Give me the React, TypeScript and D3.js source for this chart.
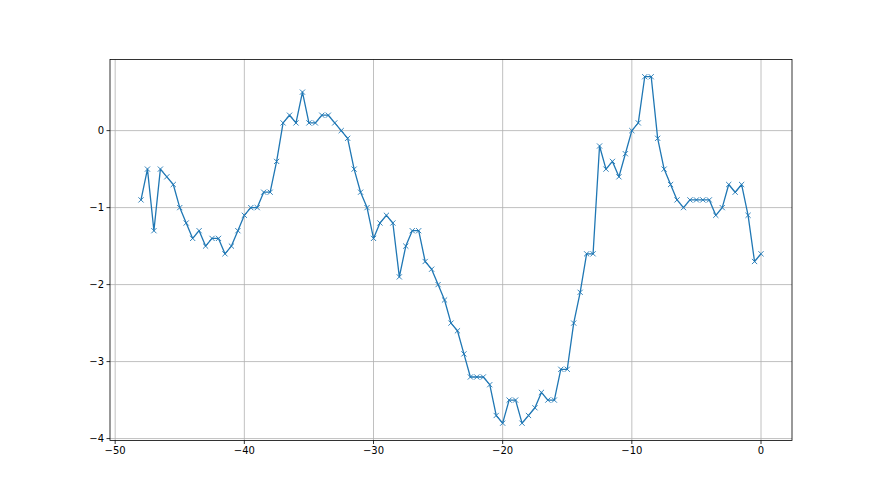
import React from "react";
import * as d3 from "d3";

const xValues: number[] = d3.range(-48, 0.001, 0.5);
const yValues: number[] = [
	-0.9, -0.5, -1.3, -0.5, -0.6, -0.7, -1.0, -1.2, -1.4, -1.3,
	-1.5, -1.4, -1.4, -1.6, -1.5, -1.3, -1.1, -1.0, -1.0, -0.8,
	-0.8, -0.4, 0.1, 0.2, 0.1, 0.5, 0.1, 0.1, 0.2, 0.2,
	0.1, 0.0, -0.1, -0.5, -0.8, -1.0, -1.4, -1.2, -1.1, -1.2,
	-1.9, -1.5, -1.3, -1.3, -1.7, -1.8, -2.0, -2.2, -2.5, -2.6,
	-2.9, -3.2, -3.2, -3.2, -3.3, -3.7, -3.8, -3.5, -3.5, -3.8,
	-3.7, -3.6, -3.4, -3.5, -3.5, -3.1, -3.1, -2.5, -2.1, -1.6,
	-1.6, -0.2, -0.5, -0.4, -0.6, -0.3, 0.0, 0.1, 0.7, 0.7,
	-0.1, -0.5, -0.7, -0.9, -1.0, -0.9, -0.9, -0.9, -0.9, -1.1,
	-1.0, -0.7, -0.8, -0.7, -1.1, -1.7, -1.6,
];
const xTicks = [-50, -40, -30, -20, -10, 0];
const yTicks = [-4, -3, -2, -1, 0];

const W = 880;
const H = 495;
const margin = { top: 59.4, right: 88, bottom: 54.5, left: 110 };

const App: React.FC = () => {
	const x = d3.scaleLinear().domain([-50.4, 2.4]).range([margin.left, W - margin.right]);
	const y = d3.scaleLinear().domain([-4.025, 0.925]).range([H - margin.bottom, margin.top]);
	const pts = xValues.map((v, i) => [v, yValues[i]] as [number, number]);
	const line = d3.line<[number, number]>().x((d) => x(d[0])).y((d) => y(d[1]));
	const font = "DejaVu Sans, sans-serif";
	const fmt = (v: number) => (v < 0 ? "\u2212" + Math.abs(v) : String(v));
	const m = 2.6;

	return (
		<svg width={W} height={H} style={{ position: "absolute", left: 0, top: 0, background: "#fff" }}>
			<rect width={W} height={H} fill="#fff" />
			{/* grid */}
			<g stroke="#b0b0b0" strokeWidth={0.8}>
				{xTicks.map((t) => (
					<line key={"gx" + t} x1={x(t)} x2={x(t)} y1={margin.top} y2={H - margin.bottom} />
				))}
				{yTicks.map((t) => (
					<line key={"gy" + t} x1={margin.left} x2={W - margin.right} y1={y(t)} y2={y(t)} />
				))}
			</g>
			<path d={line(pts) || ""} fill="none" stroke="#1f77b4" strokeWidth={1.3} strokeLinejoin="round" />
			<g stroke="#1f77b4" strokeWidth={0.9}>
				{pts.map((d, i) => (
					<path
						key={i}
						d={`M${x(d[0]) - m},${y(d[1]) - m}L${x(d[0]) + m},${y(d[1]) + m}M${x(d[0]) - m},${y(d[1]) + m}L${x(d[0]) + m},${y(d[1]) - m}`}
					/>
				))}
			</g>
			{/* spines */}
			<rect
				x={margin.left}
				y={margin.top}
				width={W - margin.left - margin.right}
				height={H - margin.top - margin.bottom}
				fill="none"
				stroke="#000"
				strokeWidth={0.8}
			/>
			{/* ticks */}
			<g fontFamily={font} fontSize={10} fill="#000">
				{xTicks.map((t) => (
					<g key={"tx" + t}>
						<line x1={x(t)} x2={x(t)} y1={H - margin.bottom} y2={H - margin.bottom + 3.5} stroke="#000" strokeWidth={0.8} />
						<text x={x(t)} y={H - margin.bottom + 6.5} textAnchor="middle" dominantBaseline="hanging">
							{fmt(t)}
						</text>
					</g>
				))}
				{yTicks.map((t) => (
					<g key={"ty" + t}>
						<line x1={margin.left - 3.5} x2={margin.left} y1={y(t)} y2={y(t)} stroke="#000" strokeWidth={0.8} />
						<text x={margin.left - 6} y={y(t)} textAnchor="end" dominantBaseline="central">
							{fmt(t)}
						</text>
					</g>
				))}
			</g>
		</svg>
	);
};

export default App;
